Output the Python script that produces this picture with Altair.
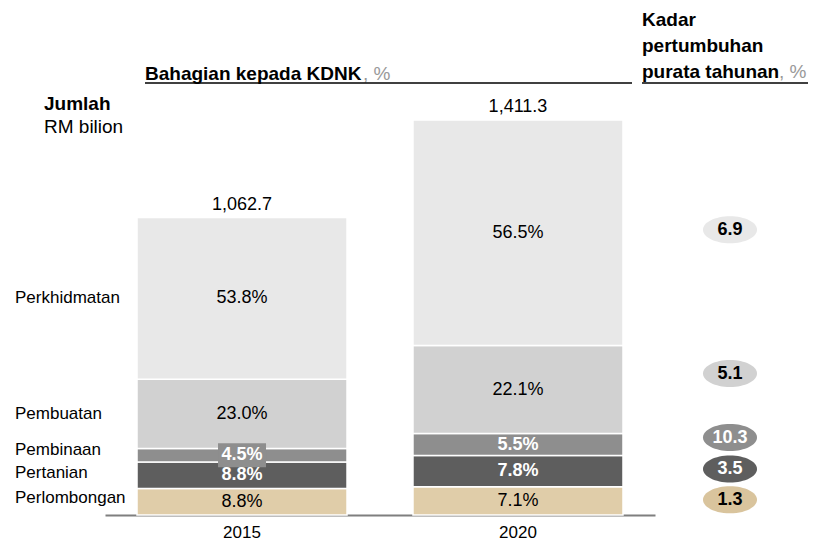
import altair as alt
import pandas as pd

# ---------------- data ----------------
years = ["2015", "2020"]
totals = [1062.7, 1411.3]                      # RM bilion
sectors = ["Perlombongan", "Pertanian", "Pembinaan", "Pembuatan", "Perkhidmatan"]  # bottom -> top
share_2015 = [8.8, 8.8, 4.5, 23.0, 53.8]       # % of GDP
share_2020 = [7.1, 7.8, 5.5, 22.1, 56.5]
growth = [1.3, 3.5, 10.3, 5.1, 6.9]            # average annual growth, %

# ---------------- style / layout ----------------
FONT = "Liberation Sans"
bar_colors = ["#e0cda9", "#5e5e5e", "#8e8e8e", "#d1d1d1", "#e8e8e8"]
bubble_colors = ["#d9c49d", "#5e5e5e", "#8e8e8e", "#d1d1d1", "#e8e8e8"]
white_text = {"Pertanian", "Pembinaan"}
W, H = 800, 507
Y_TOP = 1811.5
PPU = H / Y_TOP
left_nudge = {"Perlombongan": 4, "Pertanian": 2, "Pembinaan": 5, "Pembuatan": 0, "Perkhidmatan": 0}
bubble_nudge = {"Perlombongan": 1, "Pertanian": 2, "Pembinaan": 7, "Pembuatan": 16, "Perkhidmatan": 3}

# ---------------- tables ----------------
rows = []
for yr, tot, shares in zip(years, totals, [share_2015, share_2020]):
    s = sum(shares)
    y0 = 0.0
    for sec, sh, col in zip(sectors, shares, bar_colors):
        v = sh / s * tot
        rows.append(dict(year=yr, sector=sec, y0=y0, y1=y0 + v, mid=y0 + v / 2,
                         label=f"{sh:.1f}%", white=sec in white_text, color=col,
                         box=(v * PPU) < 18))
        y0 += v
seg = pd.DataFrame(rows)
tot_df = pd.DataFrame(dict(year=years, total=totals, txt=[f"{t:,.1f}" for t in totals]))

s15 = seg[seg.year == "2015"].set_index("sector")
s20 = seg[seg.year == "2020"].set_index("sector")
left_df = pd.DataFrame(dict(sector=sectors,
                            ly=[s15.loc[s, "mid"] + left_nudge[s] / PPU for s in sectors]))
bub_df = pd.DataFrame(dict(sector=sectors,
                           by=[s20.loc[s, "mid"] + bubble_nudge[s] / PPU for s in sectors],
                           txt=[f"{g:.1f}" for g in growth],
                           fill=bubble_colors,
                           tcol=["white" if s in white_text else "black" for s in sectors]))

xs = alt.Scale(type="band", domain=years, range=[97, 647], paddingInner=0.239, paddingOuter=0.116)
ys = alt.Scale(domain=[0, Y_TOP], nice=False, zero=True)
X = alt.X("year:N", scale=xs,
          axis=alt.Axis(title=None, labelAngle=0, ticks=False, domainColor="#7f7f7f",
                        domainWidth=2, labelFontSize=17, labelFont=FONT, labelColor="black",
                        labelPadding=9, grid=False))
Xn = X

bars = alt.Chart(seg).mark_bar(stroke="white", strokeWidth=1.5).encode(
    x=X,
    y=alt.Y("y0:Q", scale=ys, axis=None),
    y2="y1:Q",
    color=alt.Color("color:N", scale=None),
)

box = alt.Chart(seg[seg.box]).mark_point(
    shape="M -1 -0.5 L 1 -0.5 L 1 0.5 L -1 0.5 Z", size=2304, filled=True,
    opacity=1, color="#8e8e8e", strokeWidth=0
).encode(x=Xn, y=alt.Y("mid:Q", scale=ys, axis=None))

seg_dark = alt.Chart(seg[~seg.white]).mark_text(font=FONT, fontSize=18, color="black",
                                                baseline="middle").encode(
    x=Xn, y=alt.Y("mid:Q", scale=ys, axis=None), text="label:N")
seg_white = alt.Chart(seg[seg.white]).mark_text(font=FONT, fontSize=18, color="white",
                                                fontWeight="bold", baseline="middle").encode(
    x=Xn, y=alt.Y("mid:Q", scale=ys, axis=None), text="label:N")

tot_txt = alt.Chart(tot_df).mark_text(font=FONT, fontSize=18, color="black",
                                      baseline="alphabetic", dy=-8).encode(
    x=Xn, y=alt.Y("total:Q", scale=ys, axis=None), text="txt:N")

left_txt = alt.Chart(left_df).mark_text(font=FONT, fontSize=17, color="black", align="left",
                                        baseline="middle").encode(
    x=alt.value(7), y=alt.Y("ly:Q", scale=ys, axis=None), text="sector:N")

bubbles = alt.Chart(bub_df).mark_point(
    shape="M -1 0 A 1 0.5 0 1 1 1 0 A 1 0.5 0 1 1 -1 0 Z", size=2916, filled=True,
    opacity=1, strokeWidth=0
).encode(x=alt.value(722), y=alt.Y("by:Q", scale=ys, axis=None),
         color=alt.Color("fill:N", scale=None))
bub_txt = alt.Chart(bub_df).mark_text(font=FONT, fontSize=18, fontWeight="bold",
                                      baseline="middle").encode(
    x=alt.value(722), y=alt.Y("by:Q", scale=ys, axis=None), text="txt:N",
    color=alt.Color("tcol:N", scale=None))

# headers
hdr_df = pd.DataFrame(dict(k=[0]))
def htext(txt, x, y, bold=True, color="black", size=19):
    return alt.Chart(hdr_df).mark_text(
        text=txt, font=FONT, fontSize=size, fontWeight="bold" if bold else "normal",
        color=color, align="left", baseline="middle", lineHeight=26
    ).encode(x=alt.value(x), y=alt.value(y))

headers = [
    htext("Bahagian kepada KDNK", 137, 66),
    htext(", %", 355, 66, bold=False, color="#999999"),
    htext(["Kadar", "pertumbuhan", "purata tahunan"], 634, 12),
    htext(", %", 771, 64, bold=False, color="#999999"),
    htext("Jumlah", 36, 96),
    htext("RM bilion", 36, 119, bold=False),
]
rules = [
    alt.Chart(hdr_df).mark_rule(color="black", strokeWidth=1.5).encode(
        x=alt.value(137), x2=alt.value(624), y=alt.value(75)),
    alt.Chart(hdr_df).mark_rule(color="black", strokeWidth=1.5).encode(
        x=alt.value(634), x2=alt.value(800), y=alt.value(75)),
]

chart = alt.layer(bars, box, seg_dark, seg_white, tot_txt, left_txt, bubbles, bub_txt,
                  *headers, *rules).properties(
    width=W, height=H,
    autosize=alt.AutoSizeParams(type="none"),
    padding={"left": 0, "top": 0, "right": 0, "bottom": 25},
).configure_view(stroke=None)

chart.save("out.html", embed_options={"renderer": "svg", "actions": False})
